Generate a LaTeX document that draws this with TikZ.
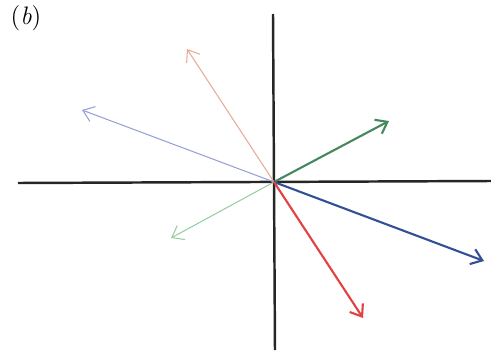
\documentclass[tikz,border=0pt]{standalone}
\usetikzlibrary{arrows.meta}
\definecolor{paleorange}{RGB}{232,170,150}
\definecolor{paleblue}{RGB}{150,160,215}
\definecolor{midgreen}{RGB}{70,135,95}
\definecolor{palegreen}{RGB}{150,205,165}
\definecolor{deepblue}{RGB}{50,80,150}
\definecolor{brightred}{RGB}{225,65,65}
\begin{document}
\begin{tikzpicture}[x=0.02cm, y=-0.02cm, >={Straight Barb[length=6pt, width=9pt]},
    axis/.style={line width=1.4pt, black!85},
    faint/.style={->, line width=0.6pt},
    bold/.style={->, line width=1.2pt}]
    \useasboundingbox (0,0) rectangle (491,352);

    % axes
    \draw[axis] (18,183) -- (491,181);
    \draw[axis] (273,14) -- (275,350);

    \coordinate (O) at (274,182);
    \coordinate (tipA) at (187,49);
    \coordinate (tipB) at (82,110);
    \coordinate (tipC) at (389,121);
    \coordinate (tipD) at (171,238);
    \coordinate (tipE) at (484,261);
    \coordinate (tipF) at (363,318);

    \draw[faint, paleorange] (O) -- (tipA);
    \draw[faint, paleblue] (O) -- (tipB);
    \draw[faint, palegreen] (O) -- (tipD);
    \draw[bold, midgreen] (O) -- (tipC);
    \draw[bold, deepblue] (O) -- (tipE);
    \draw[bold, brightred] (O) -- (tipF);

    \node[font=\Large] (lbl) at (26,18) {(\textit{b})};
\end{tikzpicture}
\end{document}
